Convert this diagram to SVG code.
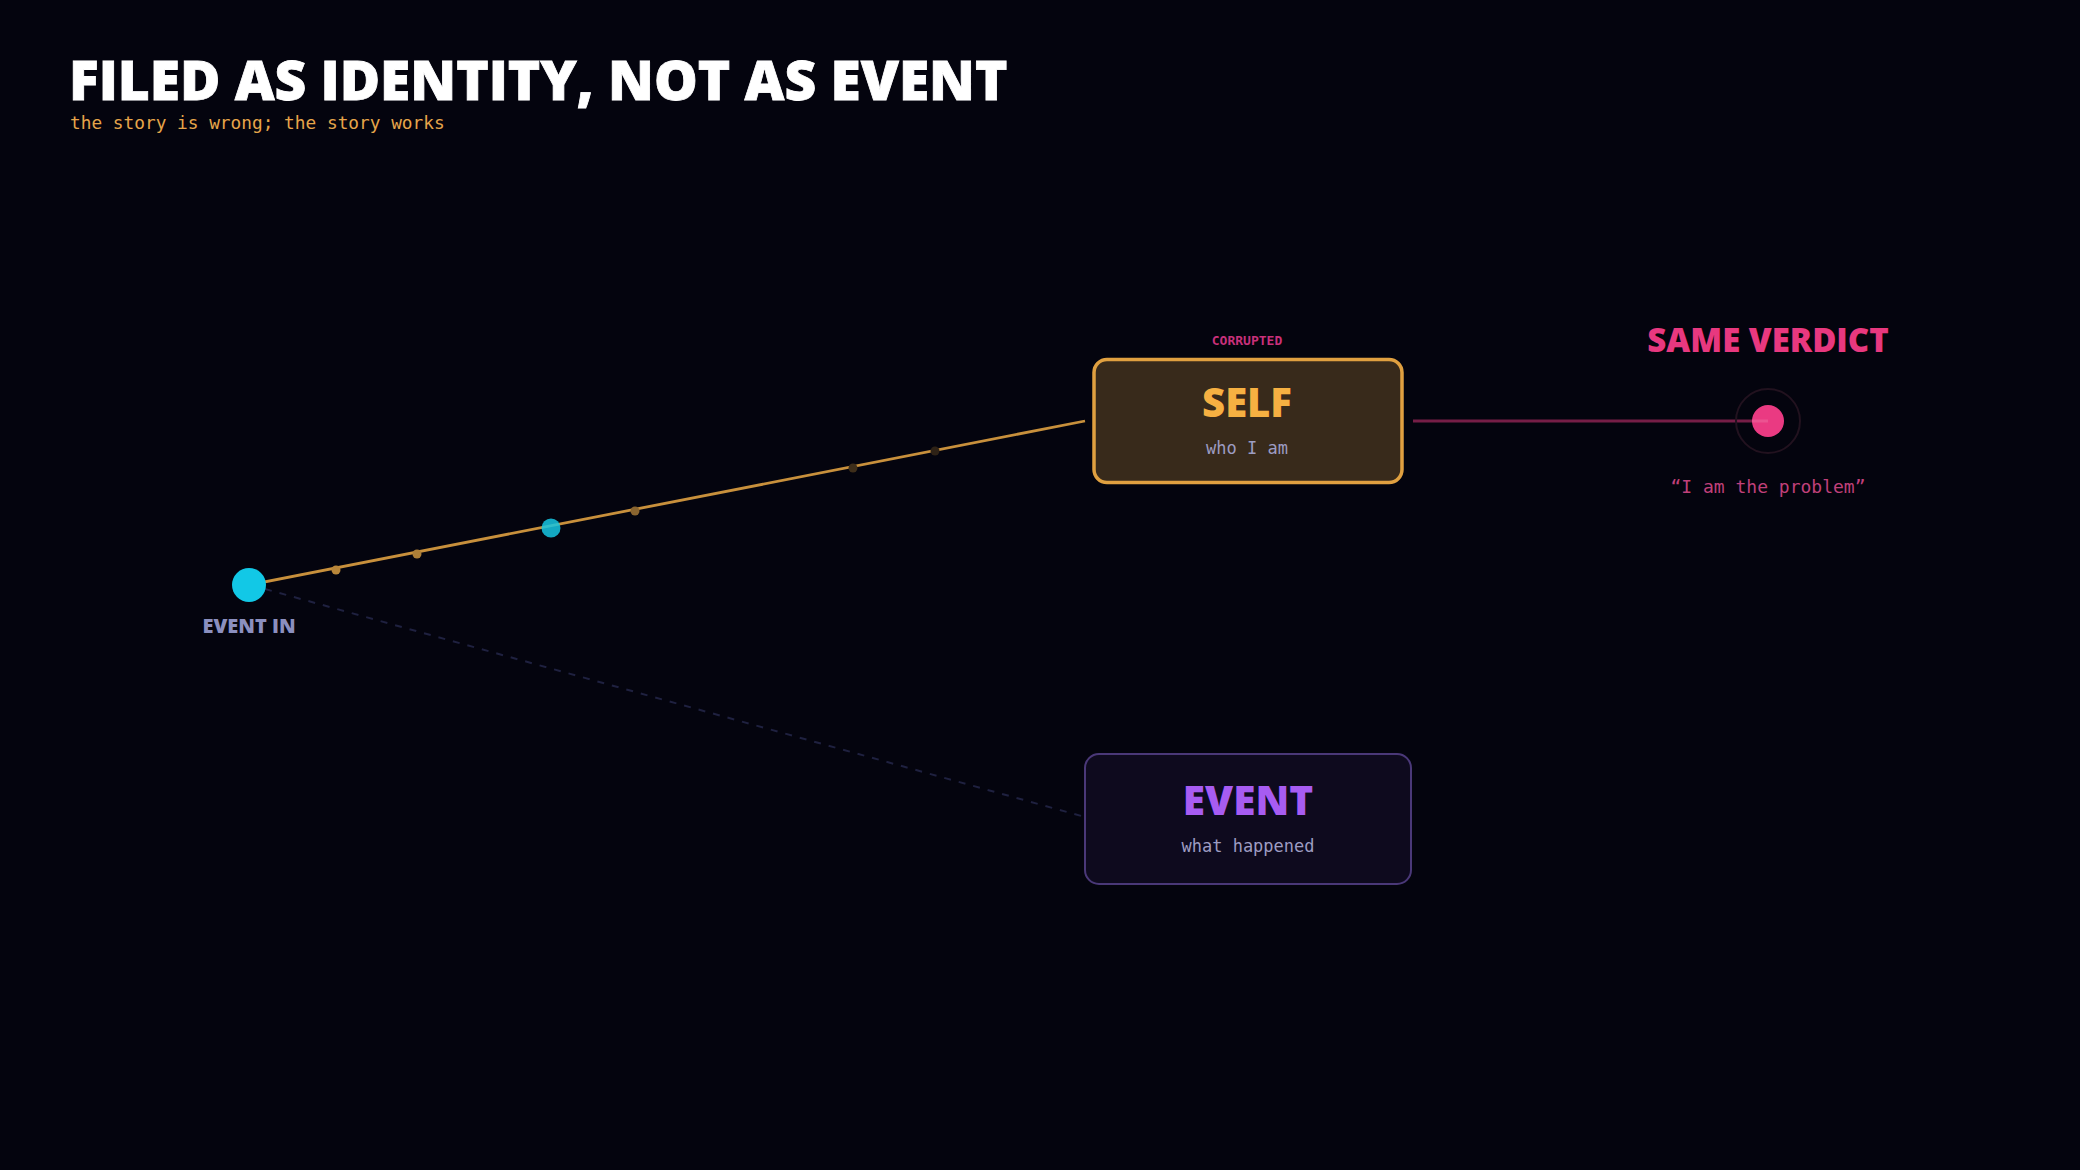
<svg xmlns="http://www.w3.org/2000/svg" width="2080" height="1170" viewBox="0 0 2080 1170">
  <style>
    .head { font-family: "Open Sans", "Noto Sans", sans-serif; font-weight: 800; }
    .mono { font-family: "DejaVu Sans Mono", "Liberation Mono", monospace; }
    .sub { fill: #9d9cc2; font-size: 17px; }
  </style>
  <rect width="2080" height="1170" fill="#04040e"/>

  <g id="title">
    <text class="head" x="69" y="100" font-size="55" fill="#ffffff" stroke="#ffffff" stroke-width="0.8">FILED AS IDENTITY, NOT AS EVENT</text>
    <text class="mono" x="70" y="129" font-size="17.8" fill="#e6a54a">the story is wrong; the story works</text>
  </g>

  <g id="connectors">
    <line x1="265" y1="589" x2="1085" y2="817" stroke="#1f2140" stroke-width="2" stroke-dasharray="7 8"/>
    <line x1="249" y1="585" x2="1085" y2="421" stroke="#c8903c" stroke-width="2.8"/>
    <circle cx="336" cy="570" r="4.5" fill="#b8863a"/>
    <circle cx="417" cy="554" r="4.5" fill="#ad7f38"/>
    <circle cx="635" cy="511" r="4.5" fill="#8a6530"/>
    <circle cx="853" cy="468" r="4.5" fill="#3e2e1a"/>
    <circle cx="935" cy="451" r="4.5" fill="#2e2216"/>
    <circle cx="551" cy="528" r="9.5" fill="#16c6e2" opacity="0.85"/>
    <line x1="1413" y1="421" x2="1768" y2="421" stroke="#e8387f" stroke-opacity="0.5" stroke-width="3"/>
  </g>

  <g id="node-event-in">
    <circle cx="249" cy="585" r="17" fill="#12c8e6"/>
    <text class="head" x="249" y="633" font-size="20" font-weight="700" fill="#8b8fbf" text-anchor="middle">EVENT IN</text>
  </g>

  <g id="node-self">
    <text class="mono" x="1247" y="345" font-size="13" font-weight="bold" fill="#c8307a" text-anchor="middle">CORRUPTED</text>
    <rect x="1094" y="359.5" width="308" height="123" rx="13" fill="#382a1b" stroke="#e0a040" stroke-width="3.5"/>
    <text class="head" x="1247" y="417" font-size="40" fill="#f6b042" text-anchor="middle">SELF</text>
    <text class="mono sub" x="1247" y="454" text-anchor="middle">who I am</text>
  </g>

  <g id="node-event">
    <rect x="1085" y="754" width="326" height="130" rx="14" fill="#0e0a1e" stroke="#4a3878" stroke-width="2"/>
    <text class="head" x="1248" y="815" font-size="40.5" fill="#a75cf2" text-anchor="middle">EVENT</text>
    <text class="mono sub" x="1248" y="852" text-anchor="middle">what happened</text>
  </g>

  <g id="node-verdict">
    <text class="head" x="1768" y="352" font-size="33" fill="#e8387f" text-anchor="middle">SAME VERDICT</text>
    <circle cx="1768" cy="421" r="32" fill="none" stroke="#22121f" stroke-width="2"/>
    <circle cx="1768" cy="421" r="16" fill="#ea3a82"/>
    <line x1="1752" y1="421" x2="1768" y2="421" stroke="#f07aa8" stroke-opacity="0.4" stroke-width="3"/>
    <text class="mono" x="1768" y="493" font-size="18" fill="#c0407a" text-anchor="middle">“I am the problem”</text>
  </g>
</svg>
